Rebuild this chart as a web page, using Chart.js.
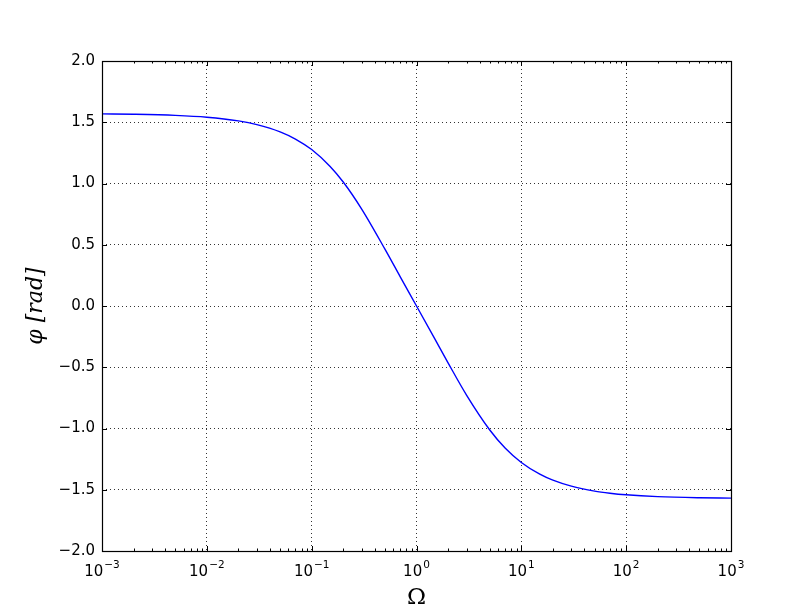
<!DOCTYPE html>
<html>
<head>
<meta charset="utf-8">
<script src="https://cdn.jsdelivr.net/npm/chart.js@4.4.1/dist/chart.umd.min.js"></script>
<style>
  html, body { margin: 0; padding: 0; background: #fff; }
  #wrap { width: 812px; height: 612px; }
</style>
</head>
<body>
<div id="wrap"><canvas id="phaseChart" width="812" height="612"></canvas></div>
<script>
// values
const omega = [0.001, 0.002, 0.005, 0.01, 0.02, 0.03, 0.05, 0.07, 0.1, 0.15, 0.2, 0.3, 0.5, 0.7, 1,
  1.5, 2, 3, 5, 7, 10, 15, 20, 30, 50, 70, 100, 200, 500, 1000];
const phi = [1.568, 1.565, 1.556, 1.541, 1.511, 1.481, 1.422, 1.363, 1.277, 1.139, 1.012, 0.791, 0.464, 0.238, 0.0,
  -0.271, -0.464, -0.727, -1.012, -1.159, -1.277, -1.373, -1.422, -1.471, -1.511, -1.528, -1.541, -1.556, -1.565, -1.568];
const xExponents = [-3, -2, -1, 0, 1, 2, 3];
const yTicks = [-2, -1.5, -1, -0.5, 0, 0.5, 1, 1.5, 2];

// frame, inward tick marks and 10^n labels, matplotlib style
const frameTicks = {
  id: "frameTicks",
  afterDraw(chart) {
    const { ctx, chartArea: a, scales: { x, y } } = chart;
    ctx.save();
    ctx.strokeStyle = "#000";
    ctx.lineWidth = 1;
    ctx.beginPath();
    xExponents.forEach(e => {
      const px = Math.round(x.getPixelForValue(Math.pow(10, e))) + 0.5;
      ctx.moveTo(px, a.bottom); ctx.lineTo(px, a.bottom - 5);
      ctx.moveTo(px, a.top); ctx.lineTo(px, a.top + 5);
      if (e < 3) {
        for (let m = 2; m <= 9; m++) {
          const mx = Math.round(x.getPixelForValue(m * Math.pow(10, e))) + 0.5;
          ctx.moveTo(mx, a.bottom); ctx.lineTo(mx, a.bottom - 2.5);
          ctx.moveTo(mx, a.top); ctx.lineTo(mx, a.top + 2.5);
        }
      }
    });
    yTicks.forEach(v => {
      const py = Math.round(y.getPixelForValue(v)) + 0.5;
      ctx.moveTo(a.left, py); ctx.lineTo(a.left + 5, py);
      ctx.moveTo(a.right, py); ctx.lineTo(a.right - 5, py);
    });
    ctx.stroke();
    ctx.lineWidth = 1.2;
    ctx.strokeRect(a.left + 0.5, a.top + 0.5, a.right - a.left, a.bottom - a.top);

    // x tick labels: base "10" with raised exponent
    ctx.fillStyle = "#000";
    ctx.textBaseline = "alphabetic";
    ctx.textAlign = "left";
    const baseFont = "15px 'DejaVu Sans'";
    const expFont = "10.5px 'DejaVu Sans'";
    xExponents.forEach(e => {
      const px = x.getPixelForValue(Math.pow(10, e));
      const expText = String(e).replace("-", "\u2212");
      ctx.font = baseFont;
      const wb = ctx.measureText("10").width;
      ctx.font = expFont;
      const we = ctx.measureText(expText).width;
      const left = px - (wb + 1 + we) / 2;
      ctx.font = baseFont;
      ctx.fillText("10", left, a.bottom + 25);
      ctx.font = expFont;
      ctx.fillText(expText, left + wb + 1, a.bottom + 16.5);
    });
    ctx.restore();
  }
};

window.onload = () => {
  const ctx = document.getElementById("phaseChart").getContext("2d");

  new Chart(ctx, {
    type: "line",
    data: {
      datasets: [{
        data: omega.map((w, i) => ({ x: w, y: phi[i] })),
        borderColor: "#0000ff",
        borderWidth: 1.4,
        pointRadius: 0,
        cubicInterpolationMode: "monotone",
        fill: false
      }]
    },
    options: {
      responsive: false,
      animation: false,
      layout: { padding: { top: 61, right: 81, left: 0, bottom: 0 } },
      plugins: { legend: { display: false }, tooltip: { enabled: false } },
      scales: {
        x: {
          type: "logarithmic",
          min: 0.001,
          max: 1000,
          afterBuildTicks: s => { s.ticks = xExponents.map(e => ({ value: Math.pow(10, e) })); },
          afterFit: s => { s.height = 61; },
          ticks: { display: false },
          grid: { color: "rgba(0,0,0,0.8)", lineWidth: 1, drawTicks: false },
          border: { display: false, dash: [1, 3] },
          title: {
            display: true,
            text: "\u03A9",
            color: "#000",
            font: { family: "DejaVu Serif", size: 23 },
            padding: { top: 0, bottom: 0 }
          }
        },
        y: {
          min: -2,
          max: 2,
          afterBuildTicks: s => { s.ticks = yTicks.map(v => ({ value: v })); },
          afterFit: s => { s.width = 102; },
          ticks: {
            padding: 7,
            color: "#000",
            font: { family: "DejaVu Sans", size: 15 },
            callback: v => v.toFixed(1).replace("-", "\u2212")
          },
          grid: { color: "rgba(0,0,0,0.8)", lineWidth: 1, drawTicks: false },
          border: { display: false, dash: [1, 3] },
          title: {
            display: true,
            text: "\u03C6 [rad]",
            color: "#000",
            font: { family: "DejaVu Serif", size: 22, style: "italic" },
            padding: { top: 23, bottom: 0 }
          }
        }
      }
    },
    plugins: [frameTicks]
  });
};
</script>
</body>
</html>
